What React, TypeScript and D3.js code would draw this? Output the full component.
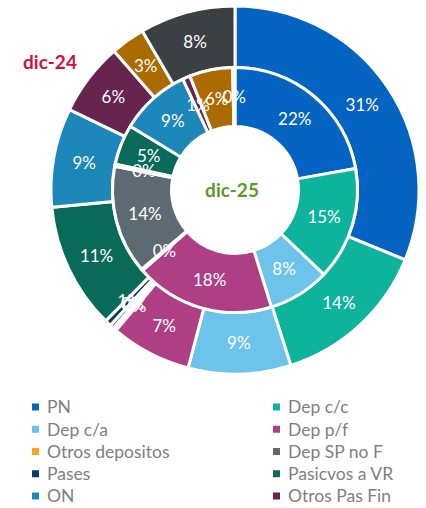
import React from "react";
import * as d3 from "d3";

// categories (the last two are not shown in the legend of the original)
const categories = [
  "PN",
  "Dep c/c",
  "Dep c/a",
  "Dep p/f",
  "Otros depositos",
  "Dep SP no F",
  "Pases",
  "Pasicvos a VR",
  "ON",
  "Otros Pas Fin",
  "Otros pasivos",
  "Resto",
];
const colors = [
  "#0563C1",
  "#0DB39A",
  "#6EC3EA",
  "#AE3F84",
  "#F5A623",
  "#5E6A72",
  "#0B3B6E",
  "#0A6A5A",
  "#1C87B8",
  "#66244F",
  "#AB6B00",
  "#3A4043",
];
// shares in %
const dic24 = [31.2, 13.9, 9.0, 7.1, 0.3, 0.35, 0.55, 11.1, 8.7, 6.4, 3.0, 8.4];
const dic25 = [22.2, 14.9, 8.1, 18.4, 0.2, 14.3, 0.3, 5.3, 9.3, 1.0, 5.7, 0.3];
const legendCount = 10;

const W = 426;
const H = 508;
const cx = 235;
const cy = 190;
const font = "Lato, 'Open Sans', sans-serif";

const Ring = ({ values, r0, r1 }: { values: number[]; r0: number; r1: number }) => {
  const pie = d3.pie<number>().sort(null).value((d) => d);
  const arcs = pie(values);
  const arc = d3.arc<d3.PieArcDatum<number>>().innerRadius(r0).outerRadius(r1);
  const total = d3.sum(values);
  return (
    <g>
      {arcs.map((a, i) => (
        <path key={i} d={arc(a) || ""} fill={colors[i]} stroke="#fff" strokeWidth={3} />
      ))}
      {arcs.map((a, i) => {
        const [x, y] = arc.centroid(a);
        return (
          <text
            key={"t" + i}
            x={x}
            y={y}
            dy="0.36em"
            textAnchor="middle"
            fill="#fff"
            fontSize={17}
            fontFamily={font}
          >
            {d3.format(".0%")(values[i] / total)}
          </text>
        );
      })}
    </g>
  );
};

export default function App() {
  const rowY = d3.scaleLinear().domain([0, 4]).range([407, 496]);
  return (
    <svg
      width={W}
      height={H}
      style={{ position: "absolute", left: 0, top: 0, background: "#fff" }}
    >
      <g transform={`translate(${cx},${cy})`}>
        <Ring values={dic24} r0={122.5} r1={184} />
        <Ring values={dic25} r0={63.5} r1={122.5} />
        <text
          x={-3}
          y={0}
          dy="0.36em"
          textAnchor="middle"
          fill="#5B9B2E"
          fontWeight="bold"
          fontSize={19}
          fontFamily={font}
        >
          dic-25
        </text>
      </g>
      <text
        x={50}
        y={62}
        dy="0.36em"
        textAnchor="middle"
        fill="#D50F3C"
        fontWeight="bold"
        fontSize={19}
        fontFamily={font}
      >
        dic-24
      </text>
      {categories.slice(0, legendCount).map((c, i) => {
        const col = i % 2;
        const row = Math.floor(i / 2);
        const x = col === 0 ? 32 : 273;
        const y = rowY(row);
        return (
          <g key={c}>
            <rect x={x} y={y - 3.5} width={7} height={7} fill={colors[i]} />
            <text
              x={x + 15}
              y={y}
              dy="0.36em"
              fill="#7F7F7F"
              fontSize={17.5}
              fontFamily={font}
            >
              {c}
            </text>
          </g>
        );
      })}
    </svg>
  );
}
